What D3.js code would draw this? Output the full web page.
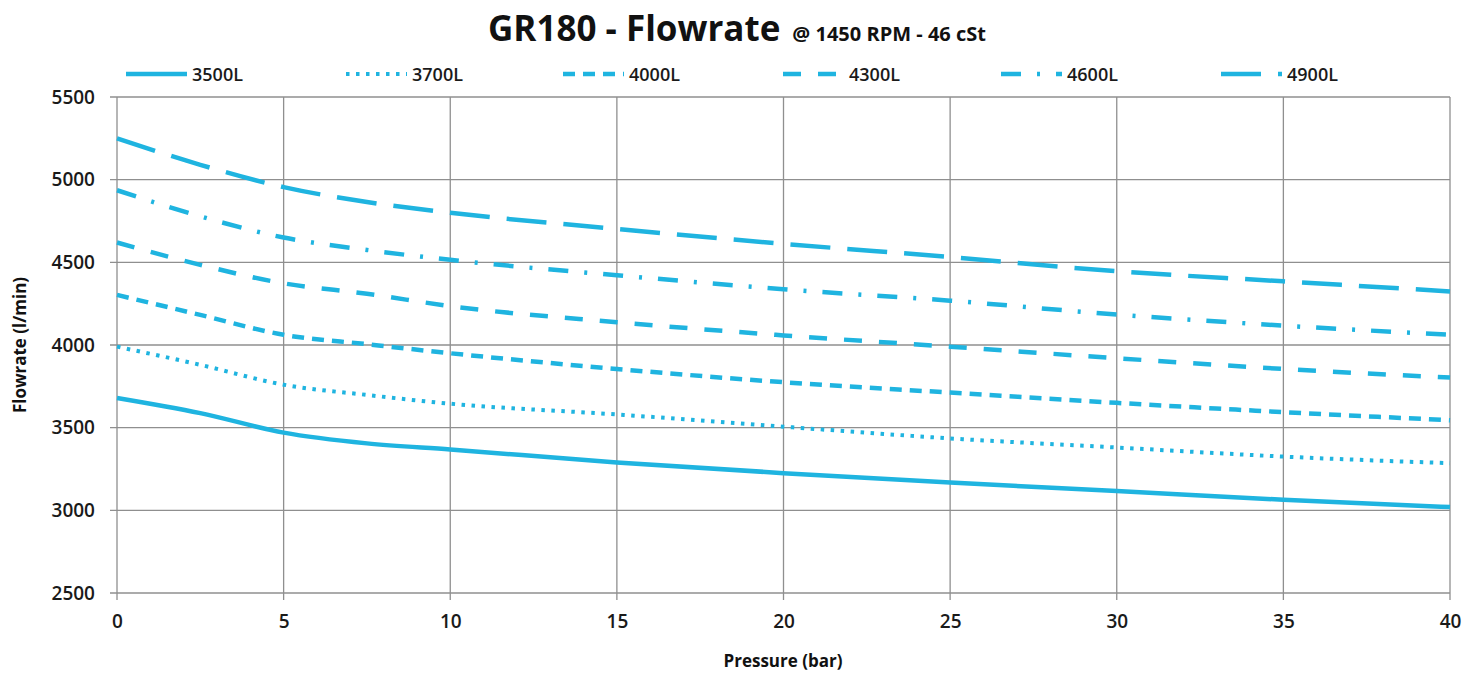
<!DOCTYPE html>
<html>
<head>
<meta charset="utf-8">
<script src="https://cdn.jsdelivr.net/npm/d3@7"></script>
<style>
  html, body { margin: 0; padding: 0; background: #fff; }
  svg { display: block; font-family: "Open Sans", sans-serif; }
</style>
</head>
<body>
<svg id="chart" width="1479" height="675"></svg>
<script>
// ---- data ----
const pressure = [0, 2.5, 5, 7.5, 10, 15, 20, 25, 30, 35, 40];
const s3500 = [3680, 3588, 3470, 3405, 3368, 3290, 3225, 3168, 3117, 3064, 3020];
const s3700 = [3990, 3880, 3760, 3698, 3645, 3580, 3506, 3435, 3380, 3325, 3285];
const s4000 = [4303, 4182, 4062, 4005, 3950, 3855, 3775, 3712, 3650, 3594, 3545];
const s4300 = [4620, 4485, 4373, 4310, 4235, 4138, 4058, 3990, 3920, 3855, 3803];
const s4600 = [4936, 4778, 4650, 4575, 4515, 4422, 4337, 4268, 4184, 4117, 4062];
const s4900 = [5250, 5090, 4955, 4865, 4800, 4702, 4612, 4532, 4446, 4385, 4324];
const seriesNames = ["3500L", "3700L", "4000L", "4300L", "4600L", "4900L"];
const seriesValues = [s3500, s3700, s4000, s4300, s4600, s4900];
const xTicks = [0, 5, 10, 15, 20, 25, 30, 35, 40];
const yTicks = [2500, 3000, 3500, 4000, 4500, 5000, 5500];

// ---- styles ----
const color = "#1fb4e0";
const dashes = [null, "3.5 6.5", "12 8", "18 17", "20 16 3 16", "40 17"];
const widths = [4.5, 4, 4.5, 4.5, 4.5, 4.5];

const svg = d3.select("#chart");
const m = { left: 117, right: 1450, top: 97, bottom: 593 };
const x = d3.scaleLinear().domain([0, 40]).range([m.left, m.right]);
const y = d3.scaleLinear().domain([2500, 5500]).range([m.bottom, m.top]);

// grid
const grid = svg.append("g");
grid.selectAll("line.h").data(yTicks).enter().append("line")
  .attr("x1", m.left - 7).attr("x2", m.right)
  .attr("y1", d => y(d)).attr("y2", d => y(d))
  .attr("stroke", "#8f8f8f").attr("stroke-width", 1.3);
grid.selectAll("line.v").data(xTicks).enter().append("line")
  .attr("x1", d => x(d)).attr("x2", d => x(d))
  .attr("y1", m.top).attr("y2", m.bottom + 7)
  .attr("stroke", "#8f8f8f").attr("stroke-width", 1.3);

// axes labels via d3 axes
const yAxis = svg.append("g").attr("transform", `translate(${m.left},0)`)
  .call(d3.axisLeft(y).tickValues(yTicks).tickFormat(d3.format("d")).tickSize(0).tickPadding(22));
const xAxis = svg.append("g").attr("transform", `translate(0,${m.bottom})`)
  .call(d3.axisBottom(x).tickValues(xTicks).tickFormat(d3.format("d")).tickSize(0).tickPadding(22));
[yAxis, xAxis].forEach(a => {
  a.select(".domain").remove();
  a.selectAll("text").attr("font-family", "Open Sans").attr("font-size", 19)
    .attr("font-weight", 600).attr("fill", "#1a1a1a");
});

// lines
const line = d3.line().x((d, i) => x(pressure[i])).y(d => y(d)).curve(d3.curveMonotoneX);
seriesValues.forEach((vals, k) => {
  svg.append("path").datum(vals)
    .attr("d", line)
    .attr("fill", "none")
    .attr("stroke", color)
    .attr("stroke-width", widths[k])
    .attr("stroke-dasharray", dashes[k]);
});

// title
const t = svg.append("text").attr("x", 488).attr("y", 41)
  .attr("font-family", "Open Sans").attr("font-weight", 700).attr("fill", "#111");
t.append("tspan").attr("font-size", 35).text("GR180 - Flowrate");
t.append("tspan").attr("font-size", 20).attr("dx", 12).text("@ 1450 RPM - 46 cSt");

// legend
const legX = [192, 412, 629, 849, 1067, 1287];
seriesNames.forEach((name, k) => {
  svg.append("line")
    .attr("x1", legX[k] - 66).attr("x2", legX[k] - 5)
    .attr("y1", 74).attr("y2", 74)
    .attr("stroke", color).attr("stroke-width", widths[k])
    .attr("stroke-dasharray", dashes[k]);
  svg.append("text").attr("x", legX[k]).attr("y", 81)
    .attr("font-size", 18).attr("font-weight", 600).attr("fill", "#1a1a1a")
    .text(name);
});

// axis titles
svg.append("text").attr("x", 783).attr("y", 667).attr("text-anchor", "middle")
  .attr("font-size", 17).attr("font-weight", 700).attr("fill", "#111")
  .text("Pressure (bar)");
svg.append("text").attr("transform", "translate(26,345) rotate(-90)")
  .attr("text-anchor", "middle")
  .attr("font-size", 17).attr("font-weight", 700).attr("fill", "#111")
  .text("Flowrate (l/min)");
</script>
</body>
</html>
